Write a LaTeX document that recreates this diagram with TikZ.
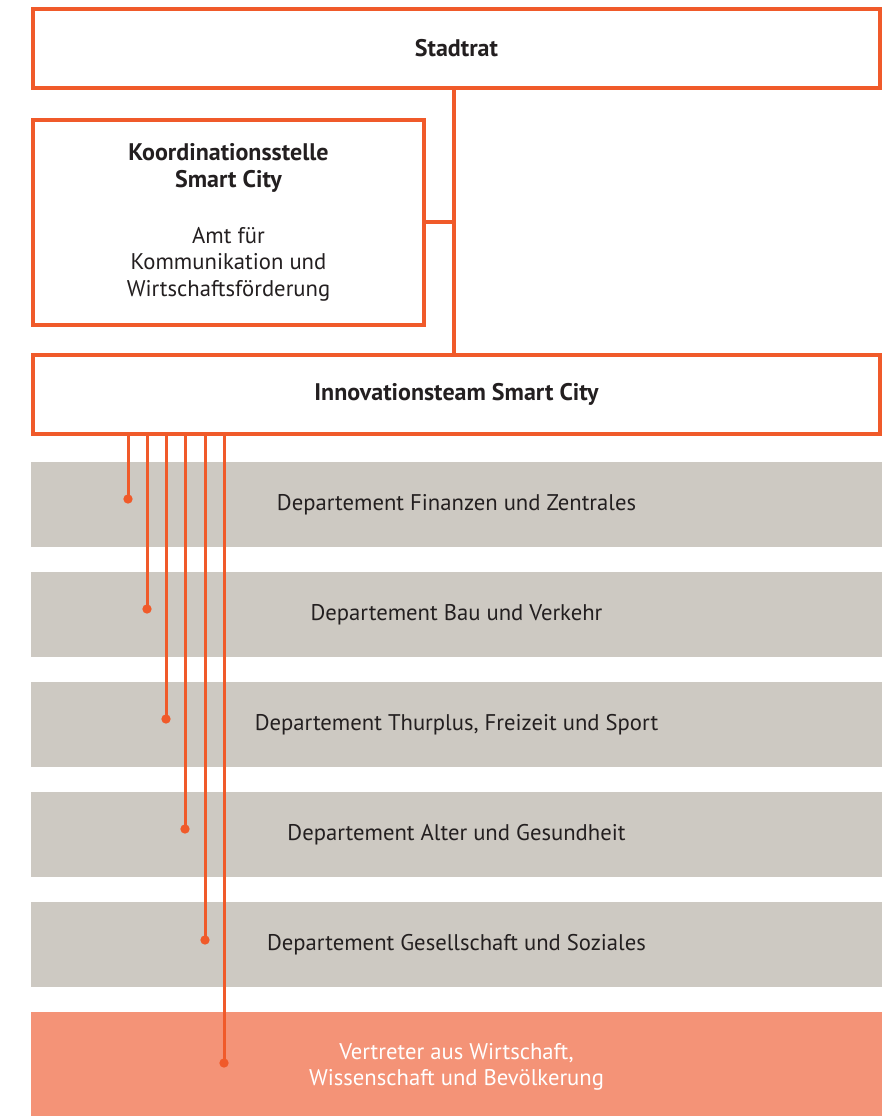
\documentclass[tikz,border=0pt]{standalone}
\usepackage{fontspec}
\setmainfont{PT Sans}
\usepackage{xcolor}
\usepackage{tikz}
\usetikzlibrary{positioning}
\definecolor{stadtorange}{RGB}{240,90,42}
\definecolor{stadtlachs}{RGB}{244,147,119}
\definecolor{stadtgrau}{RGB}{205,201,194}
\definecolor{stadttext}{RGB}{35,31,32}
\newcommand{\fett}[1]{{\fontsize{18}{20}\selectfont\bfseries #1}}

\begin{document}
\begin{tikzpicture}[x=0.75pt,y=-0.75pt,font=\fontsize{17}{20}\selectfont,text=stadttext,
    frame node/.style={rectangle,draw=stadtorange,line width=3pt,fill=white,inner sep=0pt,outer sep=0pt,align=center},
    bar node/.style={rectangle,fill=stadtgrau,inner sep=0pt,outer sep=0pt,minimum width=638.25pt,minimum height=63.75pt},
    dot node/.style={circle,fill=stadtorange,inner sep=0pt,minimum size=7pt},
    link/.style={draw=stadtorange,line width=3pt},
    branch/.style={draw=stadtorange,line width=2.25pt}]
    \useasboundingbox (0,0) rectangle (893,1116);

    % Gremien oben
    \node[frame node,minimum width=635.25pt,minimum height=59.25pt] (stadtrat) at (456.5,48.5) {\fett{Stadtrat}};
    \node[frame node,minimum width=293.25pt,minimum height=153.75pt] (koord) at (228.5,222.5)
        {\fett{Koordinationsstelle}\\ \fett{Smart City}\\[22pt] Amt für\\ Kommunikation und\\ Wirtschaftsförderung};
    \node[frame node,minimum width=635.25pt,minimum height=59.25pt] (innov) at (456.5,394.5) {\fett{Innovationsteam Smart City}};

    % Departemente
    \node[bar node] (finanzen) at (456.5,504.5) {Departement Finanzen und Zentrales};
    \node[bar node] (bau) at (456.5,614.5) {Departement Bau und Verkehr};
    \node[bar node] (thurplus) at (456.5,724.5) {Departement Thurplus, Freizeit und Sport};
    \node[bar node] (alter) at (456.5,834.5) {Departement Alter und Gesundheit};
    \node[bar node] (sozial) at (456.5,944.5) {Departement Gesellschaft und Soziales};
    \node[bar node,fill=stadtlachs,anchor=north,minimum height=82.5pt,text=white,align=center] (vertreter) at (456.5,1012)
        {Vertreter aus Wirtschaft,\\ Wissenschaft und Bevölkerung};

    % Verbindungen
    \coordinate (spine) at (454,0);
    \path[link] (stadtrat.south -| spine) -- (innov.north -| spine);
    \path[link] (koord.east) -- (koord.east -| spine);

    \node[dot node] (d1) at (128,499) {};
    \node[dot node] (d2) at (147,609) {};
    \node[dot node] (d3) at (166,719) {};
    \node[dot node] (d4) at (185,829) {};
    \node[dot node] (d5) at (205,940) {};
    \node[dot node] (d6) at (224,1063) {};
    \path[branch] (innov.south -| d1) -- (d1.center);
    \path[branch] (innov.south -| d2) -- (d2.center);
    \path[branch] (innov.south -| d3) -- (d3.center);
    \path[branch] (innov.south -| d4) -- (d4.center);
    \path[branch] (innov.south -| d5) -- (d5.center);
    \path[branch] (innov.south -| d6) -- (d6.center);
\end{tikzpicture}
\end{document}
